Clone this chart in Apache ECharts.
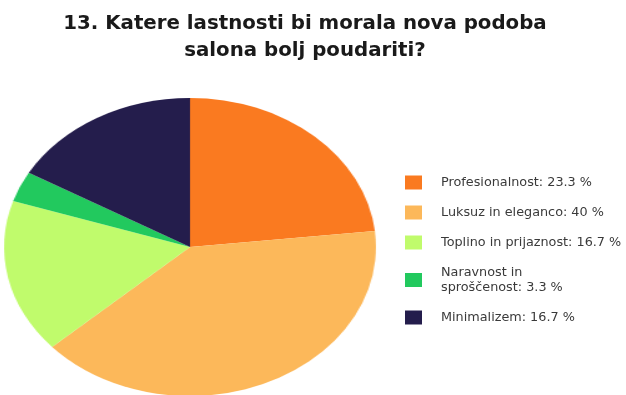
<!DOCTYPE html>
<html>
<head>
<meta charset="utf-8">
<script src="https://cdn.jsdelivr.net/npm/echarts@6/dist/echarts.min.js"></script>
<style>
  html, body { margin: 0; padding: 0; background: #fff; }
  #wrap { position: relative; width: 626px; height: 395px; overflow: hidden; background: #fff; }
  #pie, #main { position: absolute; left: 0; top: 0; width: 626px; height: 395px; }
  /* the pie is drawn as a circle and stretched horizontally into an ellipse */
  #pie { transform-origin: 190px 247px; transform: scaleX(1.248); }
</style>
</head>
<body>
<div id="wrap">
  <div id="pie"></div>
  <div id="main"></div>
</div>
<script>
// Survey answers (share of respondents, %)
const categories = [
  'Profesionalnost',
  'Luksuz in eleganco',
  'Toplino in prijaznost',
  'Naravnost in sproščenost',
  'Minimalizem'
];
const shares = [23.3, 40, 16.7, 3.3, 16.7];
const colors = ['#FA7A20', '#FCB85A', '#C0FB6C', '#22C95E', '#241D4C'];
const titleText = '13. Katere lastnosti bi morala nova podoba\nsalona bolj poudariti?';

const pieData = categories.map((name, i) => ({ name: name, value: shares[i] }));

// Pie slices
const pieChart = echarts.init(document.getElementById('pie'), null, { renderer: 'canvas' });
pieChart.setOption({
  animation: false,
  color: colors,
  series: [{
    type: 'pie',
    center: [190, 247],
    radius: 149,
    startAngle: 90,
    clockwise: true,
    silent: true,
    label: { show: false },
    labelLine: { show: false },
    itemStyle: { borderWidth: 0 },
    data: pieData
  }]
});

// Title and legend on a transparent layer above the pie
const lookup = {};
categories.forEach((c, i) => { lookup[c] = shares[i]; });
const legendLabel = {
  'Naravnost in sproščenost': 'Naravnost in\nsproščenost'
};

const mainChart = echarts.init(document.getElementById('main'), null, { renderer: 'canvas' });
mainChart.setOption({
  animation: false,
  backgroundColor: 'transparent',
  color: colors,
  title: {
    text: titleText,
    left: 300,
    top: 5,
    textAlign: 'center',
    textStyle: {
      fontFamily: 'DejaVu Sans',
      fontWeight: 'bold',
      fontSize: 19.8,
      lineHeight: 27,
      color: '#1a1a1a'
    }
  },
  legend: {
    orient: 'vertical',
    left: 400,
    top: 170,
    icon: 'rect',
    itemWidth: 17,
    itemHeight: 14,
    itemGap: 15,
    selectedMode: false,
    data: categories,
    formatter: function (name) {
      return (legendLabel[name] || name) + ': ' + lookup[name] + ' %';
    },
    textStyle: {
      fontFamily: 'DejaVu Sans',
      fontSize: 12.8,
      lineHeight: 15,
      color: '#3a3a3a',
      padding: [0, 0, 0, 14]
    }
  },
  series: [{
    type: 'pie',
    radius: [0, 0],
    center: [190, 247],
    silent: true,
    label: { show: false },
    labelLine: { show: false },
    data: pieData
  }]
});
</script>
</body>
</html>
